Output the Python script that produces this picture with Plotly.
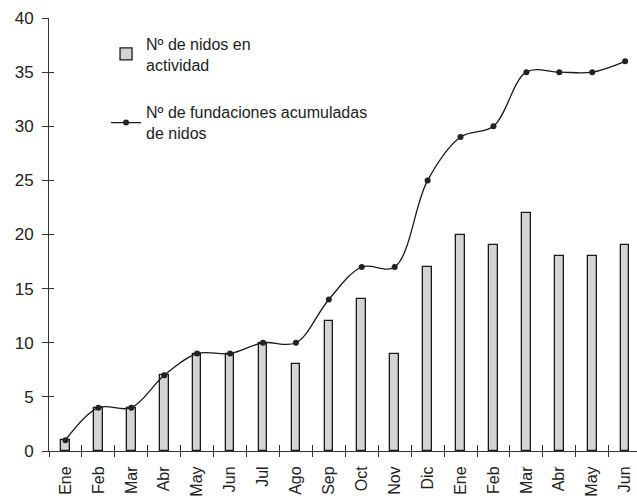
import plotly.graph_objects as go

months = ["Ene", "Feb", "Mar", "Abr", "May", "Jun", "Jul", "Ago", "Sep", "Oct",
          "Nov", "Dic", "Ene", "Feb", "Mar", "Abr", "May", "Jun"]
nidos_actividad = [1, 4, 4, 7, 9, 9, 10, 8, 12, 14, 9, 17, 20, 19, 22, 18, 18, 19]
fundaciones_acum = [1, 4, 4, 7, 9, 9, 10, 10, 14, 17, 17, 25, 29, 30, 35, 35, 35, 36]
y_ticks = [0, 5, 10, 15, 20, 25, 30, 35, 40]

x = list(range(len(months)))
font_family = "Liberation Sans, Arial, sans-serif"
ink = "#222222"

fig = go.Figure()
fig.add_trace(go.Bar(
    x=x, y=nidos_actividad, width=0.26,
    marker=dict(color="#d4d4d4", line=dict(color="#1a1a1a", width=1.3)),
    name="Nº de nidos en<br>actividad", legendgroup="a",
))
fig.add_trace(go.Scatter(
    x=x, y=fundaciones_acum, mode="lines+markers",
    line=dict(color="#1a1a1a", width=1.3, shape="spline", smoothing=1.0),
    marker=dict(color=ink, size=6),
    name="Nº de fundaciones acumuladas<br>de nidos", legendgroup="b",
))
# invisible traces carrying the overlaid tick-only axes
fig.add_trace(go.Scatter(x=[x[0]], y=[0], xaxis="x2", yaxis="y", mode="markers",
                         marker=dict(opacity=0), showlegend=False, hoverinfo="skip"))
fig.add_trace(go.Scatter(x=[x[0]], y=[0], xaxis="x3", yaxis="y2", mode="markers",
                         marker=dict(opacity=0), showlegend=False, hoverinfo="skip"))

xr = [-0.5, 17.36]
yr = [0, 40]
boundaries = [i - 0.5 for i in range(len(months) + 1)]
tick_common = dict(showticklabels=False, showgrid=False, zeroline=False,
                   showline=False, automargin=False, tickcolor="#333333", tickwidth=1)

fig.update_layout(
    width=637, height=499,
    margin=dict(l=49, r=0, t=18, b=48, autoexpand=False),
    plot_bgcolor="white", paper_bgcolor="white",
    font=dict(family=font_family, color=ink, size=16),
    showlegend=True,
    legend=dict(x=0.097, y=0.98, xanchor="left", yanchor="top",
                bgcolor="rgba(0,0,0,0)", font=dict(size=16, color=ink),
                tracegroupgap=24, itemwidth=30),
    xaxis=dict(range=xr, tickmode="array", tickvals=x, ticktext=months,
               tickangle=-90, ticks="", ticklabelstandoff=8,
               showgrid=False, zeroline=False,
               showline=True, linecolor="#333333", linewidth=1, automargin=False,
               tickfont=dict(size=16, color=ink)),
    xaxis2=dict(range=xr, overlaying="x", tickmode="array", tickvals=boundaries,
                ticks="outside", ticklen=5, **tick_common),
    xaxis3=dict(range=xr, overlaying="x", tickmode="array", tickvals=boundaries,
                ticks="inside", ticklen=6, side="bottom", anchor="y2", **tick_common),
    yaxis=dict(range=yr, tickmode="array", tickvals=y_ticks,
               ticks="outside", ticklen=6, tickcolor="#333333", showgrid=False,
               ticklabelstandoff=5,
               zeroline=False, showline=True, linecolor="#333333", linewidth=1,
               automargin=False, tickfont=dict(size=17, color=ink)),
    yaxis2=dict(range=yr, overlaying="y", tickmode="array", tickvals=y_ticks,
                ticks="inside", ticklen=5, side="left", anchor="x3", **tick_common),
    bargap=0,
)
fig.write_html("out.html", config={"displayModeBar": False},
               post_script="document.body.style.margin='0';document.body.style.overflow='hidden';")
